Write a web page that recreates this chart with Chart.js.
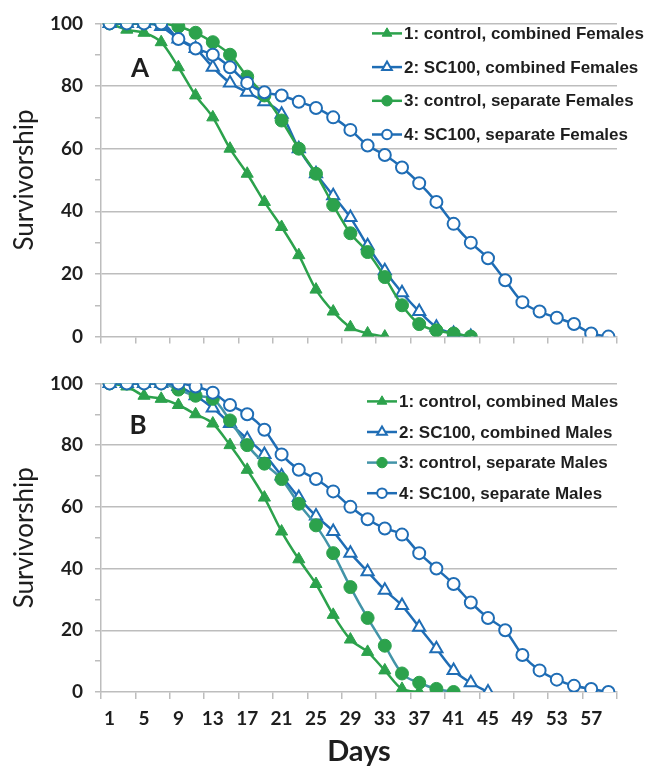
<!DOCTYPE html>
<html lang="en">
<head>
<meta charset="UTF-8">
<title>Survivorship</title>
<style>
  body { margin: 0; background: #ffffff; }
  .wrap { position: relative; width: 650px; height: 768px; }
  canvas { position: absolute; left: 0; }
  #chartA { top: 0; }
  #chartB { top: 360px; }
</style>
</head>
<body>
<div class="wrap">
  <canvas id="chartA" width="650" height="360"></canvas>
  <canvas id="chartB" width="650" height="408"></canvas>
</div>

<script src="https://cdn.jsdelivr.net/npm/chart.js"></script>
<script>
// days of observation (one point every other day)
const days = [1, 3, 5, 7, 9, 11, 13, 15, 17, 19, 21, 23, 25, 27, 29,
              31, 33, 35, 37, 39, 41, 43, 45, 47, 49, 51, 53, 55, 57, 59];
const tickMarks = [0, 4, 8, 12, 16, 20, 24, 28, 32, 36, 40, 44, 48, 52, 56, 60];
const tickLabels = [1, 5, 9, 13, 17, 21, 25, 29, 33, 37, 41, 45, 49, 53, 57];

// panel A - females
const femaleLabels = ['1: control, combined Females', '2: SC100, combined Females',
                      '3: control, separate Females', '4: SC100, separate Females'];
const fControlCombined = [100, 98, 97, 94, 86, 77, 70, 60, 52, 43, 35, 26, 15, 8, 3, 1, 0];
const fSC100Combined = [100, 100, 100, 99, 95, 92, 86, 81, 78, 75, 71, 60, 52, 45, 38, 29,
                        21, 14, 8, 3, 1, 0];
const fControlSeparate = [100, 100, 100, 100, 99, 97, 94, 90, 83, 77, 69, 60, 52, 42, 33, 27,
                          19, 10, 4, 2, 1, 0];
const fSC100Separate = [100, 100, 100, 100, 95, 92, 90, 86, 81, 78, 77, 75, 73, 70, 66, 61,
                        58, 54, 49, 43, 36, 30, 25, 18, 11, 8, 6, 4, 1, 0];

// panel B - males
const maleLabels = ['1: control, combined Males', '2: SC100, combined Males',
                    '3: control, separate Males', '4: SC100, separate Males'];
const mControlCombined = [100, 99, 96, 95, 93, 90, 87, 80, 72, 63, 52, 43, 35, 25, 17, 13, 7, 1, 0];
const mSC100Combined = [100, 100, 100, 100, 99, 96, 92, 87, 82, 77, 70, 63, 57, 52, 45, 39,
                        33, 28, 21, 14, 7, 3, 0];
const mControlSeparate = [100, 100, 100, 100, 98, 96, 95, 88, 80, 74, 69, 61, 54, 45, 34, 24,
                          15, 6, 3, 1, 0];
const mSC100Separate = [100, 100, 100, 100, 100, 99, 97, 93, 90, 85, 77, 72, 69, 65, 60, 56,
                        53, 51, 45, 40, 35, 29, 24, 20, 12, 7, 4, 2, 1, 0];

const green = '#2ca24c';
const blue = '#1f6db5';
const teal = '#4394a8';
const gridColor = '#bdbdbd';
const textColor = '#1e1e1e';

function points(values) {
  return values.map((v, i) => ({ x: days[i], y: v }));
}

function dataset(label, values, lineColor, shape, filled, order) {
  const pointColor = filled ? green : blue;
  return {
    label,
    data: points(values),
    borderColor: lineColor,
    borderWidth: 2.5,
    cubicInterpolationMode: 'monotone',
    pointStyle: shape,
    pointRadius: shape === 'triangle' ? 7 : (filled ? 6.5 : 6),
    pointBackgroundColor: filled ? pointColor : '#ffffff',
    pointBorderColor: pointColor,
    pointBorderWidth: filled ? 1 : 2,
    order
  };
}

// legend drawn inside the plot, plus the panel letter
const inlineLegend = {
  id: 'inlineLegend',
  afterDatasetsDraw(chart, args, opts) {
    const ctx = chart.ctx;
    const area = chart.chartArea;
    ctx.save();
    chart.data.datasets.forEach((ds, i) => {
      const y = area.top + opts.top + i * opts.spacing;
      const x0 = opts.left;
      ctx.strokeStyle = ds.borderColor;
      ctx.lineWidth = ds.borderWidth;
      ctx.beginPath();
      ctx.moveTo(x0, y);
      ctx.lineTo(x0 + opts.lineLen, y);
      ctx.stroke();
      ctx.fillStyle = ds.pointBackgroundColor;
      ctx.strokeStyle = ds.pointBorderColor;
      ctx.lineWidth = ds.pointBorderWidth;
      Chart.helpers.drawPoint(ctx, {
        pointStyle: ds.pointStyle,
        radius: ds.pointRadius * 0.8,
        borderWidth: ds.pointBorderWidth,
        rotation: 0
      }, x0 + opts.lineLen / 2, y);
      ctx.fillStyle = textColor;
      ctx.font = 'bold 17px "Liberation Sans", Arial, sans-serif';
      ctx.textAlign = 'left';
      ctx.textBaseline = 'middle';
      ctx.fillText(ds.label, x0 + opts.lineLen + 2, y + 1);
    });
    ctx.font = 'bold 26px Lato, sans-serif';
    ctx.textAlign = 'center';
    ctx.fillStyle = textColor;
    ctx.fillText(opts.tag, area.left + opts.tagX, area.top + opts.tagY);
    ctx.restore();
  }
};

function options(showDays, xHeight, legend) {
  return {
    responsive: false,
    animation: false,
    layout: { padding: { left: 0, right: 33, top: 18, bottom: 0 } },
    plugins: {
      legend: { display: false },
      tooltip: { enabled: false },
      inlineLegend: legend
    },
    scales: {
      x: {
        type: 'linear',
        min: 0,
        max: 60,
        afterBuildTicks: s => {
          s.ticks = tickMarks.concat(tickLabels).sort((a, b) => a - b).map(v => ({ value: v }));
        },
        afterFit: s => { s.height = xHeight; },
        border: { color: gridColor, width: 1.5 },
        grid: {
          drawOnChartArea: false,
          tickLength: 7,
          lineWidth: 1.5,
          color: gridColor,
          tickColor: c => tickMarks.includes(c.tick.value) ? gridColor : 'rgba(0,0,0,0)'
        },
        ticks: {
          autoSkip: false,
          maxRotation: 0,
          minRotation: 0,
          padding: 8,
          color: textColor,
          font: { family: 'Lato', weight: 'bold', size: 19 },
          callback: v => (showDays && tickLabels.includes(v)) ? String(v) : ''
        },
        title: {
          display: showDays,
          text: 'Days',
          color: textColor,
          font: { family: 'Lato', weight: 'bold', size: 29, lineHeight: 1 },
          padding: { top: 0, bottom: 2 }
        }
      },
      y: {
        min: 0,
        max: 100,
        afterFit: s => { s.width = 101; },
        border: { color: gridColor, width: 1.5 },
        grid: {
          lineWidth: 1.5,
          tickLength: 6,
          color: c => (c.tick.value % 20 === 0 && c.tick.value > 0) ? gridColor : 'rgba(0,0,0,0)',
          tickColor: gridColor
        },
        ticks: {
          stepSize: 10,
          padding: 12,
          color: textColor,
          font: { family: 'Lato', weight: 'bold', size: 19 },
          callback: v => v % 20 === 0 ? String(v) : ''
        },
        title: {
          display: true,
          text: 'Survivorship',
          color: textColor,
          font: { family: 'Lato', size: 26, lineHeight: 1 },
          padding: { top: 12, bottom: 0 }
        }
      }
    }
  };
}

new Chart(document.getElementById('chartA'), {
  type: 'line',
  data: {
    datasets: [
      dataset(femaleLabels[0], fControlCombined, green, 'triangle', true, 3),
      dataset(femaleLabels[1], fSC100Combined, blue, 'triangle', false, 2),
      dataset(femaleLabels[2], fControlSeparate, green, 'circle', true, 1),
      dataset(femaleLabels[3], fSC100Separate, blue, 'circle', false, 0)
    ]
  },
  options: options(false, 20, { left: 372, top: 10, spacing: 33.7, lineLen: 30, tag: 'A', tagX: 39, tagY: 45 }),
  plugins: [inlineLegend]
});

const optB = options(true, 76, { left: 367, top: 18, spacing: 30.6, lineLen: 30, tag: 'B', tagX: 37, tagY: 42 });
optB.layout.padding.top = 15;

new Chart(document.getElementById('chartB'), {
  type: 'line',
  data: {
    datasets: [
      dataset(maleLabels[0], mControlCombined, green, 'triangle', true, 3),
      dataset(maleLabels[1], mSC100Combined, blue, 'triangle', false, 2),
      dataset(maleLabels[2], mControlSeparate, teal, 'circle', true, 1),
      dataset(maleLabels[3], mSC100Separate, blue, 'circle', false, 0)
    ]
  },
  options: optB,
  plugins: [inlineLegend]
});
</script>
</body>
</html>
